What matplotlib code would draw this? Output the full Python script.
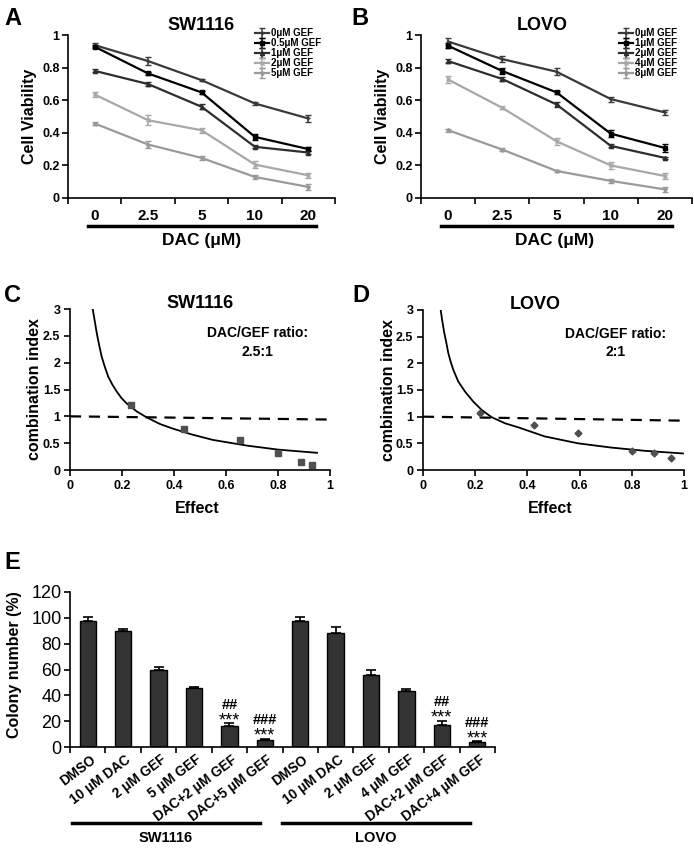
import numpy as np
import matplotlib
matplotlib.use('Agg')
import matplotlib.pyplot as plt

plt.rcParams['font.family'] = ['Liberation Sans', 'DejaVu Sans']
plt.rcParams['axes.linewidth'] = 1.2

# ---- panels A/B: cell viability vs DAC ----
dac_labels = ['0', '2.5', '5', '10', '20']

sw_gef = ['0μM GEF', '0.5μM GEF', '1μM GEF', '2μM GEF', '5μM GEF']
sw_via = [[0.938, 0.840, 0.723, 0.580, 0.488],
          [0.928, 0.764, 0.648, 0.375, 0.300],
          [0.780, 0.699, 0.560, 0.314, 0.279],
          [0.635, 0.477, 0.416, 0.205, 0.139],
          [0.457, 0.328, 0.246, 0.129, 0.068]]
sw_err = [[0.010, 0.025, 0.006, 0.010, 0.020],
          [0.010, 0.010, 0.010, 0.020, 0.010],
          [0.010, 0.010, 0.015, 0.010, 0.010],
          [0.015, 0.030, 0.015, 0.020, 0.015],
          [0.010, 0.020, 0.010, 0.010, 0.020]]

lovo_gef = ['0μM GEF', '1μM GEF', '2μM GEF', '4μM GEF', '8μM GEF']
lovo_via = [[0.960, 0.852, 0.775, 0.607, 0.525],
            [0.934, 0.779, 0.648, 0.395, 0.307],
            [0.840, 0.730, 0.574, 0.320, 0.246],
            [0.727, 0.553, 0.348, 0.200, 0.135],
            [0.416, 0.297, 0.166, 0.105, 0.053]]
lovo_err = [[0.020, 0.020, 0.020, 0.015, 0.015],
            [0.015, 0.020, 0.010, 0.020, 0.025],
            [0.010, 0.010, 0.015, 0.010, 0.005],
            [0.020, 0.010, 0.020, 0.020, 0.020],
            [0.010, 0.010, 0.005, 0.010, 0.015]]

# ---- panels C/D: combination index ----
sw_eff = [0.235, 0.44, 0.655, 0.80, 0.89, 0.93]
sw_ci = [1.22, 0.76, 0.56, 0.32, 0.14, 0.10]
sw_fit_x = [0.087, 0.095, 0.103, 0.112, 0.122, 0.134, 0.147, 0.163, 0.180, 0.198, 0.218,
            0.257, 0.295, 0.346, 0.396, 0.47, 0.55, 0.68, 0.80, 0.95]
sw_fit_y = [3.01, 2.78, 2.55, 2.33, 2.11, 1.92, 1.74, 1.59, 1.46, 1.34, 1.24,
            1.09, 0.98, 0.857, 0.77, 0.66, 0.56, 0.455, 0.38, 0.32]
sw_ref_x = [0.0, 1.0]
sw_ref_y = [1.0, 0.94]

lovo_eff = [0.22, 0.425, 0.594, 0.80, 0.885, 0.95]
lovo_ci = [1.06, 0.84, 0.69, 0.36, 0.32, 0.22]
lovo_fit_x = [0.068, 0.075, 0.082, 0.090, 0.097, 0.106, 0.116, 0.135, 0.161, 0.193, 0.225,
              0.263, 0.314, 0.365, 0.466, 0.594, 0.722, 0.849, 0.996]
lovo_fit_y = [2.99, 2.76, 2.56, 2.37, 2.19, 2.03, 1.88, 1.66, 1.47, 1.28, 1.125,
              0.99, 0.876, 0.80, 0.63, 0.50, 0.42, 0.36, 0.31]
lovo_ref_x = [0.0, 1.0]
lovo_ref_y = [1.0, 0.925]

# ---- panel E: colony formation ----
col_labels = ['DMSO', '10 μM DAC', '2 μM GEF', '5 μM GEF', 'DAC+2 μM GEF', 'DAC+5 μM GEF',
              'DMSO', '10 μM DAC', '2 μM GEF', '4 μM GEF', 'DAC+2 μM GEF', 'DAC+4 μM GEF']
col_vals = [97.5, 89.5, 60, 45.5, 16, 5.5, 97.5, 88.5, 56, 43.5, 17, 3.5]
col_err = [3.5, 2, 2.3, 1.2, 2.5, 0.8, 3.5, 4.5, 4, 1.5, 3.5, 0.8]
col_sig = ['', '', '', '', '##\n***', '###\n***', '', '', '', '', '##\n***', '###\n***']
groups = ['SW1116', 'LOVO']

W, H = 694, 849
fig = plt.figure(figsize=(W / 100, H / 100), dpi=100)


def add_ax(l, t, r, b):
    # pixel box -> figure fraction
    return fig.add_axes([l / W, 1 - b / H, (r - l) / W, (b - t) / H])


line_col = ['#3a3a3a', '#000000', '#2e2e2e', '#a8a8a8', '#9a9a9a']
line_mk = ['+', 's', '^', 'x', '*']


def viab_panel(ax, title, title_x, names, vals, errs, leg_x, xlab_x):
    x = np.arange(len(dac_labels))
    for i in range(len(names)):
        ax.errorbar(x, vals[i], yerr=errs[i], color=line_col[i], marker=line_mk[i],
                    ms=3, mew=1, lw=1.6, elinewidth=1.1, capsize=2.5, capthick=1.1,
                    label=names[i])
    ax.set_xlim(-0.5, 4.5)
    ax.set_ylim(0, 1)
    ax.set_xticks(np.arange(-0.5, 5, 1))
    ax.set_xticklabels([])
    ax.set_xticks(x, minor=True)
    ax.set_xticklabels(dac_labels, minor=True, fontsize=11, fontweight='bold')
    ax.tick_params(axis='x', which='minor', length=0, pad=8)
    ax.tick_params(axis='x', which='major', length=4, width=1.2)
    ax.set_yticks([0, 0.2, 0.4, 0.6, 0.8, 1])
    ax.set_yticklabels(['0', '0.2', '0.4', '0.6', '0.8', '1'], fontsize=9, fontweight='bold')
    ax.tick_params(axis='y', length=4, width=1.2, pad=2)
    for s in ['top', 'right']:
        ax.spines[s].set_visible(False)
    ax.text(title_x, 1.06, title, transform=ax.transAxes, ha='center', va='center',
            fontsize=13, fontweight='bold')
    ax.set_ylabel('Cell Viability', fontsize=11.5, fontweight='bold')
    ax.yaxis.set_label_coords(-0.115, 0.5)
    ax.plot([-0.13, 4.14], [-0.172, -0.172], color='k', lw=2.5,
            transform=ax.get_xaxis_transform(), clip_on=False)
    ax.text(xlab_x, -0.258, 'DAC (μM)', transform=ax.transAxes, ha='center', va='center',
            fontsize=12.5, fontweight='bold')
    ax.legend(loc='upper left', bbox_to_anchor=(leg_x, 1.04), frameon=False,
              prop={'size': 7, 'weight': 'bold'}, handlelength=1.5,
              handletextpad=0.2, labelspacing=0.0, borderpad=0, borderaxespad=0)


def ci_panel(ax, title, title_x, ratio, ratio_x, ex, ey, mk, ms, fx, fy, rx, ry):
    ax.plot(rx, ry, color='k', lw=1.6, ls=(0, (5, 3.5)))
    ax.plot(fx, fy, color='k', lw=1.3)
    ax.plot(ex, ey, ls='none', marker=mk, ms=ms, color='#505050', mec='#505050')
    ax.set_xlim(0, 1)
    ax.set_ylim(0, 3)
    ax.set_xticks([0, 0.2, 0.4, 0.6, 0.8, 1])
    ax.set_xticklabels(['0', '0.2', '0.4', '0.6', '0.8', '1'], fontsize=9, fontweight='bold')
    ax.set_yticks([0, 0.5, 1, 1.5, 2, 2.5, 3])
    ax.set_yticklabels(['0', '0.5', '1', '1.5', '2', '2.5', '3'], fontsize=9, fontweight='bold')
    ax.tick_params(length=4, width=1.2, pad=3)
    for s in ['top', 'right']:
        ax.spines[s].set_visible(False)
    ax.text(title_x, 1.035, title, transform=ax.transAxes, ha='center', va='center',
            fontsize=13, fontweight='bold')
    ax.text(ratio_x, 0.85, 'DAC/GEF ratio:', transform=ax.transAxes, ha='center', va='center',
            fontsize=10, fontweight='bold')
    ax.text(ratio_x, 0.735, ratio, transform=ax.transAxes, ha='center', va='center',
            fontsize=10, fontweight='bold')
    ax.set_xlabel('Effect', fontsize=11.5, fontweight='bold')
    ax.xaxis.set_label_coords(0.488, -0.195)
    ax.set_ylabel('combination index', fontsize=11.5, fontweight='bold')


axA = add_ax(68, 35, 335, 198)
viab_panel(axA, 'SW1116', 0.5, sw_gef, sw_via, sw_err, 0.70, 0.5)
axB = add_ax(421, 35, 692, 198)
viab_panel(axB, 'LOVO', 0.446, lovo_gef, lovo_via, lovo_err, 0.73, 0.494)

axC = add_ax(70, 309, 330, 470)
ci_panel(axC, 'SW1116', 0.5, '2.5:1', 0.72, sw_eff, sw_ci, 's', 4.5,
         sw_fit_x, sw_fit_y, sw_ref_x, sw_ref_y)
axC.yaxis.set_label_coords(-0.109, 0.5)
axD = add_ax(423, 310, 684, 470)
ci_panel(axD, 'LOVO', 0.43, '2:1', 0.739, lovo_eff, lovo_ci, 'D', 3.5,
         lovo_fit_x, lovo_fit_y, lovo_ref_x, lovo_ref_y)
axD.yaxis.set_label_coords(-0.104, 0.5)

# panel E
axE = add_ax(70, 592, 495, 747)
xb = np.arange(len(col_vals))
axE.bar(xb, col_vals, width=0.46, color='#333333', edgecolor='k', lw=1.0,
        yerr=[np.zeros(len(col_err)), col_err],
        error_kw=dict(ecolor='k', elinewidth=1.2, capsize=3.5, capthick=1.2))
for i in range(len(col_vals)):
    if col_sig[i]:
        top_lab, bot_lab = col_sig[i].split('\n')
        axE.annotate(bot_lab, (xb[i], col_vals[i] + col_err[i]), xytext=(0, -1.5),
                     textcoords='offset points', ha='center', va='baseline', fontsize=13)
        axE.annotate(top_lab, (xb[i], col_vals[i] + col_err[i]), xytext=(0, 10.5),
                     textcoords='offset points', ha='center', va='baseline', fontsize=10.5,
                     fontweight='bold')
axE.set_xlim(-0.5, 11.5)
axE.set_ylim(0, 120)
axE.set_xticks(np.arange(-0.5, 12, 1))
axE.set_xticklabels([])
axE.set_xticks(xb + 0.05, minor=True)
axE.set_xticklabels(col_labels, minor=True, rotation=37, ha='right', va='top',
                    rotation_mode='anchor', fontsize=9.8, fontweight='bold')
axE.tick_params(axis='x', which='minor', length=0, pad=4)
axE.tick_params(axis='x', which='major', length=4, width=1.2)
axE.set_yticks(np.arange(0, 121, 20))
axE.tick_params(axis='y', labelsize=13, length=4, width=1.2, pad=2)
for s in ['top', 'right']:
    axE.spines[s].set_visible(False)
axE.set_ylabel('Colony number (%)', fontsize=11.5, fontweight='bold')
axE.yaxis.set_label_coords(-0.113, 0.53)
axE.plot([-0.44, 4.86], [-0.49, -0.49], color='k', lw=2.5,
         transform=axE.get_xaxis_transform(), clip_on=False)
axE.plot([5.49, 10.79], [-0.49, -0.49], color='k', lw=2.5,
         transform=axE.get_xaxis_transform(), clip_on=False)
axE.text(2.21, -0.59, groups[0], transform=axE.get_xaxis_transform(), ha='center',
         va='center', fontsize=10.5, fontweight='bold')
axE.text(8.14, -0.59, groups[1], transform=axE.get_xaxis_transform(), ha='center',
         va='center', fontsize=10.5, fontweight='bold')

# panel letters
for lab, px, py in [('A', 4, 7), ('B', 351, 7), ('C', 4, 284), ('D', 352, 284), ('E', 4, 551)]:
    fig.text(px / W, 1 - py / H, lab, ha='left', va='top', fontsize=17, fontweight='bold')

fig.savefig('out.png', dpi=100)
